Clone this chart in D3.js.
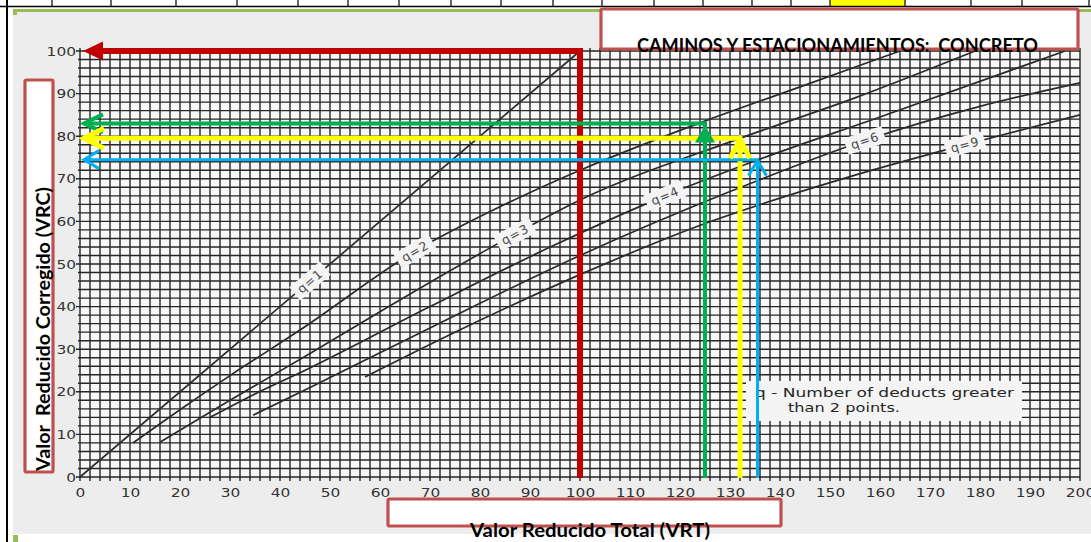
<!DOCTYPE html>
<html>
<head>
<meta charset="utf-8">
<script src="https://cdn.jsdelivr.net/npm/d3@7/dist/d3.min.js"></script>
<style>
  html, body { margin: 0; padding: 0; background: #ffffff; overflow: hidden; }
  svg { display: block; }
  .pre { white-space: pre; }
</style>
</head>
<body>
<svg id="chart" width="1091" height="542"></svg>
<script>
// ---- Ticks ----
const xTickValues = [0, 10, 20, 30, 40, 50, 60, 70, 80, 90, 100, 110, 120, 130, 140, 150, 160, 170, 180, 190, 200];
const yTickValues = [0, 10, 20, 30, 40, 50, 60, 70, 80, 90, 100];

// ---- Curvas VRC vs VRT segun q ----
const curveNames = ["q=1", "q=2", "q=3", "q=4", "q=6", "q=9"];
const q1 = [[0, 0], [100, 100]];
const q2 = [[10.6, 8], [20, 15.8], [30, 23.8], [44, 34.5], [67, 53], [85, 64], [100, 72], [126, 84], [145, 92], [164, 100]];
const q3 = [[16, 8.2], [30, 18], [46, 29], [60, 38.8], [87, 57], [100, 65], [132, 79.5], [155, 89], [179, 100]];
const q4 = [[26, 14], [35, 19.5], [46, 25.6], [70, 40], [95, 54.5], [117, 66], [135.5, 74.4], [160, 84.5], [197, 100]];
const q6 = [[34.6, 14.5], [46, 21], [70, 35], [100, 52], [130, 67], [157, 79], [180, 87], [200, 92.5]];
const q9 = [[57, 23.5], [75, 34], [100, 47.5], [125, 59.5], [154, 70.5], [177, 78], [200, 85]];
const curveSeries = [q1, q2, q3, q4, q6, q9];
const labelVRT = [46, 67, 87, 117, 157, 177];

// ---- Lecturas (flechas) ----
const readVRT = [100, 125, 132, 135.5];
const readVRC = [100, 83, 79.5, 74.5];

// ---- Textos ----
const titleText = "CAMINOS Y ESTACIONAMIENTOS:  CONCRETO";
const yTitle = "Valor  Reducido Corregido (VRC)";
const xTitle = "Valor Reducido Total (VRT)";
const noteLines = ["q - Number of deducts greater", "than 2 points."];

// ---- Franja de celdas superior ----
const cellEdges = [7, 52, 111, 176, 237, 298, 348, 399, 451, 501, 553, 602, 654, 703, 752, 791, 830, 905, 971, 1022, 1089];

const arrowStyle = [
  { color: "#c00000", width: 6 },
  { color: "#00b050", width: 4 },
  { color: "#ffff00", width: 5 },
  { color: "#00b0f0", width: 3 }
];

const svg = d3.select("#chart");
const x = d3.scaleLinear().domain([0, 200]).range([80, 1080]);
const y = d3.scaleLinear().domain([0, 100]).range([477, 51]);

// page pieces around the chart
svg.append("rect").attr("x", 830).attr("y", 0).attr("width", 75).attr("height", 6).attr("fill", "#ffff00");
svg.append("g").selectAll("line").data(cellEdges).join("line")
  .attr("x1", d => d).attr("x2", d => d).attr("y1", 0).attr("y2", 7)
  .attr("stroke", "#000").attr("stroke-width", 1.2);
svg.append("line").attr("x1", 0).attr("x2", 1091).attr("y1", 6.5).attr("y2", 6.5)
  .attr("stroke", "#000").attr("stroke-width", 1.5);
svg.append("line").attr("x1", 7).attr("x2", 7).attr("y1", 0).attr("y2", 542)
  .attr("stroke", "#000").attr("stroke-width", 2);
svg.append("rect").attr("x", 13).attr("y", 12).attr("width", 1078).attr("height", 522).attr("fill", "#ededed");
svg.append("rect").attr("x", 13).attr("y", 9).attr("width", 1078).attr("height", 3).attr("fill", "#9bbb59");
svg.append("rect").attr("x", 13).attr("y", 9).attr("width", 4).attr("height", 6).attr("fill", "#9bbb59");
svg.append("rect").attr("x", 13).attr("y", 535).attr("width", 5).attr("height", 7).attr("fill", "#9bbb59");

// plot paper
svg.append("rect").attr("x", x(0)).attr("y", y(100)).attr("width", x(200) - x(0)).attr("height", y(0) - y(100))
  .attr("fill", "#f7f7f7");

// grid every 2 units
const grid = svg.append("g").attr("stroke", "#262626").attr("stroke-width", 1.4);
grid.selectAll("line.v").data(d3.range(0, 201, 2)).join("line").attr("class", "v")
  .attr("x1", d => x(d)).attr("x2", d => x(d))
  .attr("y1", y(100) - 3).attr("y2", y(0) + 4);
grid.selectAll("line.h").data(d3.range(0, 101, 2)).join("line").attr("class", "h")
  .attr("x1", d => x(0) - (d % 10 === 0 ? 4 : 2)).attr("x2", x(200))
  .attr("y1", d => y(d)).attr("y2", d => y(d));

// axes labels
const tickFont = "'DejaVu Sans', 'Liberation Sans', sans-serif";
const xAxis = svg.append("g").attr("transform", `translate(0,${y(0)})`)
  .call(d3.axisBottom(x).tickValues(xTickValues).tickSize(0).tickPadding(11));
xAxis.select(".domain").remove();
xAxis.selectAll("text").attr("font-family", tickFont).attr("font-size", 13).attr("fill", "#333")
  .attr("textLength", d => String(d).length * 9.8).attr("lengthAdjust", "spacingAndGlyphs");

const yAxis = svg.append("g").attr("transform", `translate(${x(0)},0)`)
  .call(d3.axisLeft(y).tickValues(yTickValues).tickSize(0).tickPadding(4));
yAxis.select(".domain").remove();
yAxis.selectAll("text").attr("font-family", tickFont).attr("font-size", 13).attr("fill", "#333")
  .attr("textLength", d => String(d).length * 9.8).attr("lengthAdjust", "spacingAndGlyphs");

// curves
const line = d3.line().x(d => x(d[0])).y(d => y(d[1])).curve(d3.curveMonotoneX);
const paths = svg.append("g").selectAll("path").data(curveSeries).join("path")
  .attr("d", line).attr("fill", "none").attr("stroke", "#2b2b2b").attr("stroke-width", 1.7);

// curve labels placed on the drawn paths
paths.each(function (d, i) {
  const node = this;
  const total = node.getTotalLength();
  const targetX = x(labelVRT[i]);
  let lo = 0, hi = total;
  for (let k = 0; k < 40; k++) {
    const mid = (lo + hi) / 2;
    if (node.getPointAtLength(mid).x < targetX) lo = mid; else hi = mid;
  }
  const p = node.getPointAtLength(lo);
  const a = node.getPointAtLength(Math.max(0, lo - 10));
  const b = node.getPointAtLength(Math.min(total, lo + 10));
  const ang = Math.atan2(b.y - a.y, b.x - a.x) * 180 / Math.PI;
  const g = svg.append("g").attr("transform", `translate(${p.x},${p.y}) rotate(${ang})`);
  g.append("rect").attr("x", -20).attr("y", -8.5).attr("width", 40).attr("height", 17).attr("fill", "#f4f4f4");
  g.append("text").attr("text-anchor", "middle").attr("dy", "0.36em")
    .attr("font-family", tickFont).attr("font-size", 12.5).attr("fill", "#4a4a4a")
    .attr("letter-spacing", 1).text(curveNames[i]);
});

// note
svg.append("rect").attr("x", 746).attr("y", 381).attr("width", 276).attr("height", 40).attr("fill", "#f4f4f4");
svg.append("text").attr("x", 755).attr("y", 397).attr("font-family", tickFont).attr("font-size", 12.5)
  .attr("fill", "#262626").attr("textLength", 259).attr("lengthAdjust", "spacingAndGlyphs").text(noteLines[0]);
svg.append("text").attr("x", 788).attr("y", 412).attr("font-family", tickFont).attr("font-size", 12.5)
  .attr("fill", "#262626").attr("textLength", 112).attr("lengthAdjust", "spacingAndGlyphs").text(noteLines[1]);

// reading arrows: up from VRT, then left to the VRC axis
const arrows = svg.append("g");
const l0 = x(0) + 3;
readVRT.forEach((v, i) => {
  const st = arrowStyle[i];
  const px = x(v), py = y(readVRC[i]);
  arrows.append("path")
    .attr("d", `M${px},${y(0) + 1}V${py}H${l0 + (i === 0 ? 18 : 2)}`)
    .attr("fill", "none").attr("stroke", st.color).attr("stroke-width", st.width)
    .attr("stroke-linejoin", "miter");
});
// red: solid head pointing left
arrows.append("path").attr("d", `M${l0},${y(readVRC[0])}L${l0 + 20},${y(readVRC[0]) - 9.5}L${l0 + 20},${y(readVRC[0]) + 9.5}Z`)
  .attr("fill", arrowStyle[0].color);
// green: open left head, solid up head
arrows.append("path").attr("d", `M${l0 + 20},${y(readVRC[1]) - 9}L${l0 + 1},${y(readVRC[1])}L${l0 + 20},${y(readVRC[1]) + 9}`)
  .attr("fill", "none").attr("stroke", arrowStyle[1].color).attr("stroke-width", arrowStyle[1].width);
arrows.append("path").attr("d", `M${x(readVRT[1])},${y(readVRC[1]) + 2}L${x(readVRT[1]) + 10},${y(readVRC[1]) + 19}L${x(readVRT[1]) - 10},${y(readVRC[1]) + 19}Z`)
  .attr("fill", arrowStyle[1].color);
// yellow: open heads
arrows.append("path").attr("d", `M${l0 + 21},${y(readVRC[2]) - 10}L${l0 + 1},${y(readVRC[2])}L${l0 + 21},${y(readVRC[2]) + 10}`)
  .attr("fill", "none").attr("stroke", arrowStyle[2].color).attr("stroke-width", arrowStyle[2].width);
arrows.append("path").attr("d", `M${x(readVRT[2]) - 10},${y(readVRC[2]) + 20}L${x(readVRT[2])},${y(readVRC[2]) + 1}L${x(readVRT[2]) + 10},${y(readVRC[2]) + 20}`)
  .attr("fill", "none").attr("stroke", arrowStyle[2].color).attr("stroke-width", arrowStyle[2].width);
// blue: open heads
arrows.append("path").attr("d", `M${l0 + 16},${y(readVRC[3]) - 9}L${l0 + 1},${y(readVRC[3])}L${l0 + 16},${y(readVRC[3]) + 9}`)
  .attr("fill", "none").attr("stroke", arrowStyle[3].color).attr("stroke-width", arrowStyle[3].width);
arrows.append("path").attr("d", `M${x(readVRT[3]) - 9},${y(readVRC[3]) + 16}L${x(readVRT[3])},${y(readVRC[3]) + 1}L${x(readVRT[3]) + 9},${y(readVRC[3]) + 16}`)
  .attr("fill", "none").attr("stroke", arrowStyle[3].color).attr("stroke-width", arrowStyle[3].width);

// title boxes
const boxStroke = "#c0504d";
const titleFont = "Lato, 'Open Sans', sans-serif";
svg.append("rect").attr("x", 601).attr("y", 9).attr("width", 477).attr("height", 40).attr("rx", 1.5)
  .attr("fill", "#ffffff").attr("stroke", boxStroke).attr("stroke-width", 3.2);
svg.append("text").attr("class", "pre").attr("x", 637).attr("y", 52)
  .attr("font-family", titleFont).attr("font-weight", 700).attr("font-size", 18).attr("fill", "#000")
  .attr("textLength", 401).attr("lengthAdjust", "spacingAndGlyphs").text(titleText);

svg.append("rect").attr("x", 25).attr("y", 80).attr("width", 28).attr("height", 392).attr("rx", 1.5)
  .attr("fill", "#ffffff").attr("stroke", boxStroke).attr("stroke-width", 3.2);
svg.append("text").attr("class", "pre").attr("transform", "translate(50,471) rotate(-90)")
  .attr("font-family", titleFont).attr("font-weight", 700).attr("font-size", 18).attr("fill", "#000")
  .attr("textLength", 284).attr("lengthAdjust", "spacingAndGlyphs").text(yTitle);

svg.append("rect").attr("x", 388).attr("y", 499).attr("width", 393).attr("height", 27).attr("rx", 1.5)
  .attr("fill", "#ffffff").attr("stroke", boxStroke).attr("stroke-width", 3.2);
svg.append("text").attr("x", 470).attr("y", 537)
  .attr("font-family", titleFont).attr("font-weight", 700).attr("font-size", 18.5).attr("fill", "#000")
  .attr("textLength", 240).attr("lengthAdjust", "spacingAndGlyphs").text(xTitle);
</script>
</body>
</html>
